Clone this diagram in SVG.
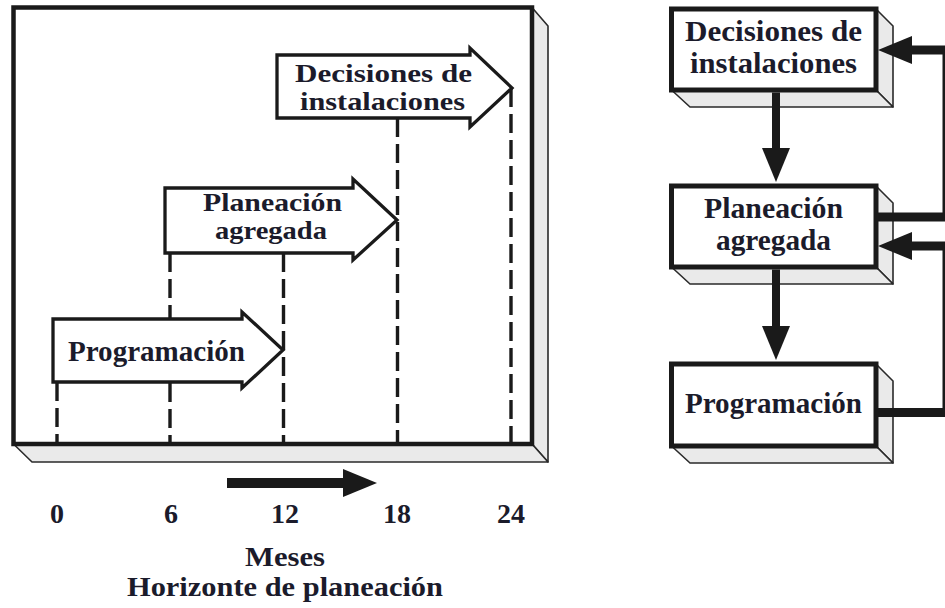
<svg xmlns="http://www.w3.org/2000/svg" width="945" height="608" viewBox="0 0 945 608">
<style>
  .face{fill:#eaeaea;stroke:#2a2a2a;stroke-width:1.6;stroke-linejoin:round}
  .frame{fill:#ffffff;stroke:#1a1a1a;stroke-width:4.5}
  .box{fill:#ffffff;stroke:#1a1a1a;stroke-width:5}
  .band{fill:#ffffff;stroke:#1a1a1a;stroke-width:3.3;stroke-linejoin:miter}
  .dash{stroke:#1a1a1a;stroke-width:3.4;stroke-dasharray:19 7;fill:none}
  .conn{fill:none;stroke:#1a1a1a;stroke-linejoin:miter}
  text{font-family:"Liberation Serif","Times New Roman",serif;font-weight:bold;fill:#1b1b2b;text-anchor:middle}
  .t{font-size:29px}
  .s{font-size:26px}
  .n{font-size:28px}
  .m{font-size:28px}
</style>
<defs>
  <marker id="head" viewBox="0 0 34 28" refX="0" refY="14" markerWidth="34" markerHeight="28" markerUnits="userSpaceOnUse" orient="auto">
    <path d="M0,0 L34,14 L0,28 Z" fill="#1a1a1a"/>
  </marker>
</defs>

<!-- Left panel: time horizon -->
<g id="horizon-frame">
  <polygon class="face" points="532,7.5 548,26 548,462 532,444"/>
  <polygon class="face" points="13.5,444 32,462 548,462 532,444"/>
  <rect class="frame" x="13.5" y="7.5" width="518.5" height="436.5"/>
</g>
<g id="horizon-guides">
  <line class="dash" x1="57" y1="382" x2="57" y2="444"/>
  <line class="dash" x1="170" y1="253" x2="170" y2="444"/>
  <line class="dash" x1="283.5" y1="253" x2="283.5" y2="444"/>
  <line class="dash" x1="397.5" y1="118" x2="397.5" y2="444"/>
  <line class="dash" x1="511" y1="88" x2="511" y2="444"/>
</g>
<g id="band-programacion">
  <path class="band" d="M53,319 H242 V312 L283,350 L242,388 V382 H53 Z"/>
  <text class="t" x="156.5" y="361" textLength="177" lengthAdjust="spacingAndGlyphs">Programación</text>
</g>
<g id="band-planeacion">
  <path class="band" d="M165,188 H353 V179 L397,220 L353,260 V253 H165 Z"/>
  <text class="s" x="272.5" y="211" textLength="139" lengthAdjust="spacingAndGlyphs">Planeación</text>
  <text class="s" x="271" y="239" textLength="112" lengthAdjust="spacingAndGlyphs">agregada</text>
</g>
<g id="band-decisiones">
  <path class="band" d="M277,55 H470 V48 L512,88 L470,127 V118 H277 Z"/>
  <text class="s" x="383.5" y="82" textLength="177" lengthAdjust="spacingAndGlyphs">Decisiones de</text>
  <text class="s" x="382.5" y="110" textLength="165" lengthAdjust="spacingAndGlyphs">instalaciones</text>
</g>
<g id="axis">
  <path class="conn" d="M227,483 H343" stroke-width="10" marker-end="url(#head)"/>
  <text class="n" x="57" y="523">0</text>
  <text class="n" x="171" y="523">6</text>
  <text class="n" x="285" y="523">12</text>
  <text class="n" x="397" y="523">18</text>
  <text class="n" x="511" y="523">24</text>
  <text class="m" x="285" y="566" textLength="80" lengthAdjust="spacingAndGlyphs">Meses</text>
  <text class="m" x="285" y="596" textLength="316" lengthAdjust="spacingAndGlyphs">Horizonte de planeación</text>
</g>

<!-- Right panel: hierarchy -->
<g id="node-decisiones">
  <polygon class="face" points="876,9 893,26 893,107 876,90"/>
  <polygon class="face" points="671.5,90 690,107 893,107 876,90"/>
  <rect class="box" x="671.5" y="9" width="204.5" height="81"/>
  <text class="t" x="773.5" y="41" textLength="177" lengthAdjust="spacingAndGlyphs">Decisiones de</text>
  <text class="t" x="773.5" y="73" textLength="167" lengthAdjust="spacingAndGlyphs">instalaciones</text>
</g>
<g id="node-planeacion">
  <polygon class="face" points="876,186 893,203 893,284 876,267"/>
  <polygon class="face" points="671.5,267 690,284 893,284 876,267"/>
  <rect class="box" x="671.5" y="186" width="204.5" height="81"/>
  <text class="t" x="773.5" y="218" textLength="139" lengthAdjust="spacingAndGlyphs">Planeación</text>
  <text class="t" x="773.5" y="250" textLength="115" lengthAdjust="spacingAndGlyphs">agregada</text>
</g>
<g id="node-programacion">
  <polygon class="face" points="876,364 893,381 893,463 876,446"/>
  <polygon class="face" points="671.5,446 690,463 893,463 876,446"/>
  <rect class="box" x="671.5" y="364" width="204.5" height="82"/>
  <text class="t" x="773.5" y="413" textLength="177" lengthAdjust="spacingAndGlyphs">Programación</text>
</g>
<g id="connectors">
  <path class="conn" d="M776,92.5 V148" stroke-width="8" marker-end="url(#head)"/>
  <path class="conn" d="M776,269.5 V326" stroke-width="8" marker-end="url(#head)"/>
  <path class="conn" d="M876,217 H947 V50 H912" stroke-width="9" marker-end="url(#head)"/>
  <path class="conn" d="M876,412.5 H947 V246 H912" stroke-width="9" marker-end="url(#head)"/>
</g>
</svg>
